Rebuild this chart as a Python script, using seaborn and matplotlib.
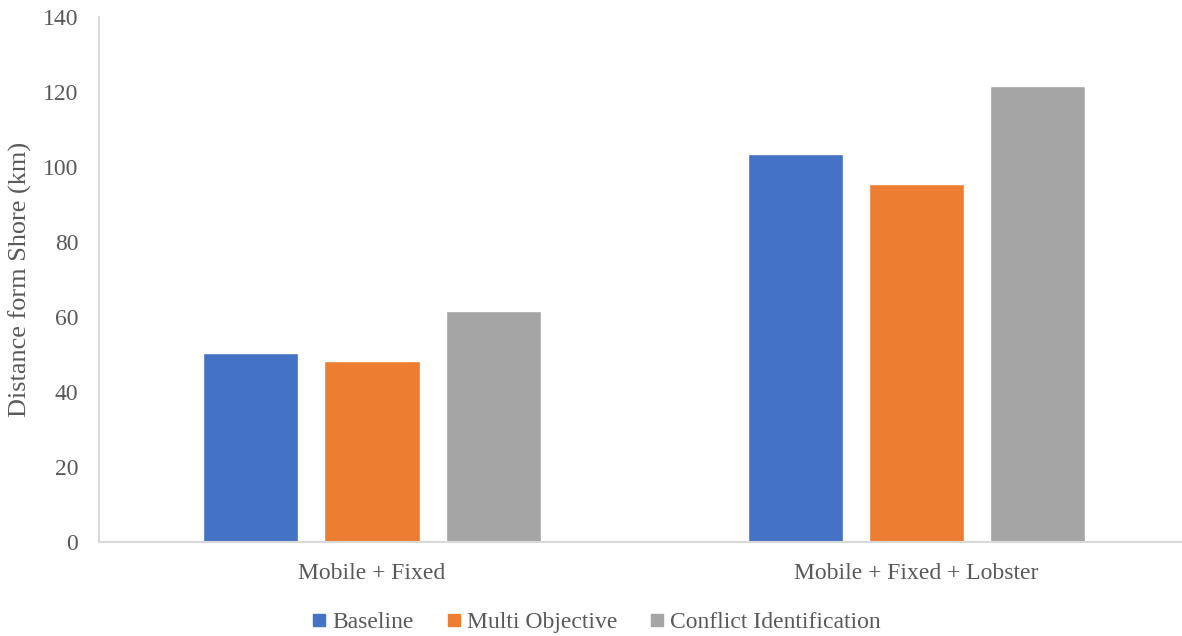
import matplotlib
matplotlib.use("Agg")
import matplotlib.pyplot as plt
from matplotlib.lines import Line2D
import pandas as pd
import seaborn as sns

# Distance from shore per scenario and planning approach
categories = ["Mobile + Fixed", "Mobile + Fixed + Lobster"]
series = ["Baseline", "Multi Objective", "Conflict Identification"]
baseline = [50.3, 103.3]
multi_objective = [48.2, 95.4]
conflict_identification = [61.5, 121.5]
y_ticks = [0, 20, 40, 60, 80, 100, 120, 140]
colors = ["#4472C4", "#ED7D31", "#A5A5A5"]

rows = []
for name, vals in zip(series, [baseline, multi_objective, conflict_identification]):
    for cat, v in zip(categories, vals):
        rows.append({"category": cat, "series": name, "value": v})
df = pd.DataFrame(rows)

sns.set_theme(style="white")
plt.rcParams["font.family"] = ["Liberation Serif", "DejaVu Serif"]
text_color = "#595959"
axis_color = "#D9D9D9"

fig = plt.figure(figsize=(11.82, 6.36), dpi=100)
ax = fig.add_axes([0.0838, 0.1483, 0.9152, 0.8257])

sns.barplot(data=df, x="category", y="value", hue="series", order=categories,
            hue_order=series, palette=colors, saturation=1, width=0.667, gap=0.215,
            legend=False, ax=ax)

ax.set_xlim(-0.5014, 1.4858)
ax.set_ylim(0, 140)
ax.set_yticks(y_ticks)
ax.set_yticklabels([str(t) for t in y_ticks])
ax.set_xlabel("")
ax.set_ylabel("Distance form Shore (km)", fontsize=18.9, color=text_color, labelpad=8)
ax.tick_params(axis="y", length=0, pad=15, labelsize=17, labelcolor=text_color)
ax.tick_params(axis="x", length=0, pad=15, labelsize=17, labelcolor=text_color)

for side in ["top", "right"]:
    ax.spines[side].set_visible(False)
for side in ["left", "bottom"]:
    ax.spines[side].set_color(axis_color)
    ax.spines[side].set_linewidth(1.5)
ax.grid(False)

handles = [Line2D([0], [0], marker="s", linestyle="none", markersize=8,
                  markerfacecolor=c, markeredgecolor=c) for c in colors]
fig.legend(handles, series, loc="center", bbox_to_anchor=(0.505, 0.021), ncol=3,
           frameon=False, fontsize=17, labelcolor=text_color, handlelength=0.5,
           handletextpad=0.3, columnspacing=1.45, borderpad=0, borderaxespad=0)

fig.savefig("out.png", dpi=100)
